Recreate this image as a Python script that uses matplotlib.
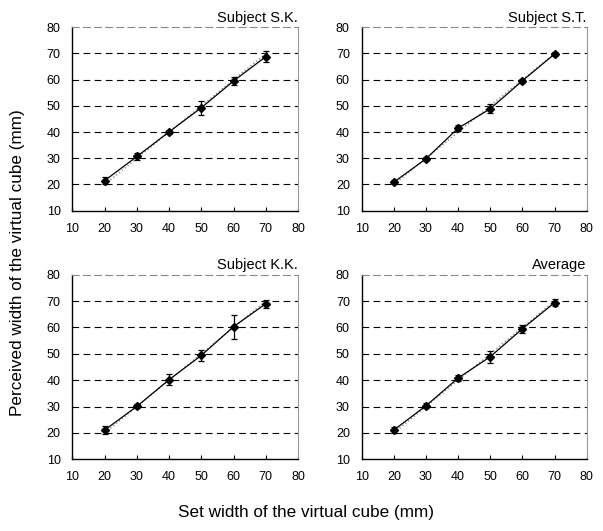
import numpy as np
import matplotlib.pyplot as plt

plt.rcParams['font.family'] = ['Liberation Sans', 'DejaVu Sans']

set_width = [20, 30, 40, 50, 60, 70]
titles = ['Subject S.K.', 'Subject S.T.', 'Subject K.K.', 'Average']

sk_mean = [21.5, 30.7, 40.1, 49.3, 59.5, 68.8]
sk_err = [1.5, 1.2, 0.7, 2.7, 1.5, 2.0]
st_mean = [20.9, 29.8, 41.5, 48.9, 59.6, 69.8]
st_err = [0.7, 0.7, 1.2, 1.7, 0.8, 0.8]
kk_mean = [21.1, 30.1, 40.2, 49.4, 60.3, 69.0]
kk_err = [1.5, 0.8, 2.0, 2.0, 4.6, 1.5]
avg_mean = [21.1, 30.3, 40.8, 48.9, 59.5, 69.4]
avg_err = [1.2, 1.0, 1.2, 2.2, 1.5, 1.3]

means = [sk_mean, st_mean, kk_mean, avg_mean]
errs = [sk_err, st_err, kk_err, avg_err]

fig = plt.figure(figsize=(6.03, 5.31), dpi=100)

# axes boxes in figure fractions [left, bottom, width, height]
boxes = [
    [0.1202, 0.6032, 0.374, 0.3454],
    [0.5998, 0.6032, 0.3732, 0.3454],
    [0.1202, 0.1350, 0.374, 0.3477],
    [0.5998, 0.1350, 0.3732, 0.3477],
]

for box, title, m, e in zip(boxes, titles, means, errs):
    ax = fig.add_axes(box)
    # identity line
    ax.plot(set_width, set_width, color='#888888', linestyle=':', linewidth=1.0, zorder=2)
    ax.errorbar(set_width, m, yerr=e, color='black', linewidth=0.9, marker='D',
                markersize=4, capsize=2.5, elinewidth=0.9, capthick=0.9, zorder=3)
    for yv in range(20, 80, 10):
        ax.axhline(yv, color='black', linestyle=(0, (6, 4)), linewidth=0.8, zorder=1)
    ax.set_xlim(10, 80)
    ax.set_ylim(10, 80)
    ax.set_xticks(range(10, 90, 10))
    ax.set_yticks(range(10, 90, 10))
    ax.tick_params(axis='x', direction='in', length=3, pad=8.5, labelsize=9)
    ax.tick_params(axis='y', length=0, pad=8.5, labelsize=9)
    ax.spines['top'].set_color('#888888')
    ax.spines['top'].set_linestyle((0, (6, 4)))
    ax.spines['right'].set_color('#999999')
    ax.spines['left'].set_linewidth(1.0)
    ax.spines['bottom'].set_linewidth(1.0)
    ax.set_title(title, loc='right', fontsize=10.5, pad=4)

fig.text(0.507, 0.02, 'Set width of the virtual cube (mm)', ha='center', va='bottom', fontsize=12.3)
fig.text(0.016, 0.505, 'Perceived width of the virtual cube (mm)', ha='left', va='center',
         rotation=90, fontsize=12.3)

fig.savefig('out.png', dpi=100)
